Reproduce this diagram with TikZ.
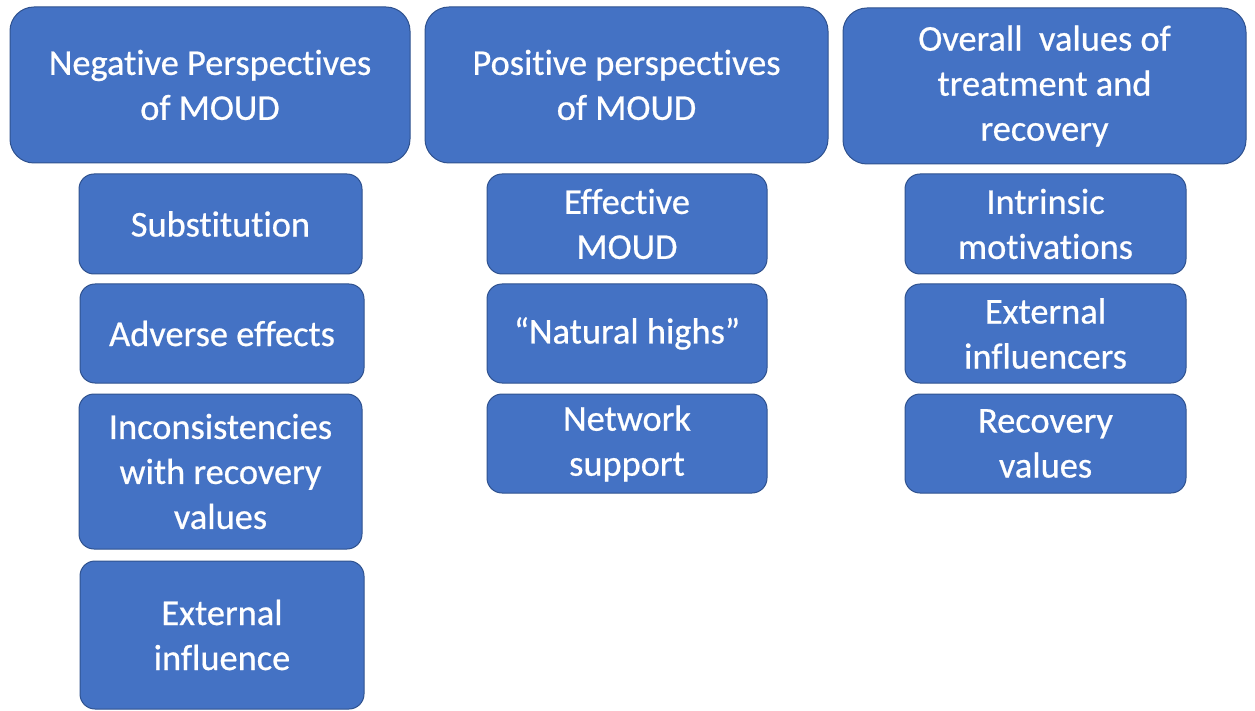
\documentclass[tikz,border=0pt]{standalone}
\usepackage{fontspec}
\setmainfont[Ligatures=NoCommon]{Carlito}
\newfontfamily\boxfont[Ligatures=NoCommon,FakeBold=0.6]{Carlito}
\definecolor{boxblue}{HTML}{4472C4}
\definecolor{boxedge}{HTML}{2F528F}
\begin{document}
\begin{tikzpicture}[x=1pt,y=-1pt,
  box/.style={draw=boxedge, line width=1pt, fill=boxblue, text=white, align=center,
    inner sep=0pt, font=\boxfont\fontsize{36.4}{45}\selectfont\addfontfeature{FakeBold=0.6}},
  head/.style={box, rounded corners=24pt},
  item/.style={box, rounded corners=15pt}]
\useasboundingbox (0,0) rectangle (1255,711);
% headers
\node[head, minimum width=400pt, minimum height=156pt] (h1) at (210,85) {Negative Perspectives\\of MOUD};
\node[head, minimum width=403pt, minimum height=156pt] (h2) at (626.5,85) {Positive perspectives\\of MOUD};
\node[head, minimum width=403pt, minimum height=156pt] (h3) at (1044.5,86) {Overall\ \ values of\\treatment and\\recovery};
% left column
\node[item, minimum width=283pt, minimum height=100pt] (l1) at (220.5,224) {Substitution};
\node[item, minimum width=284pt, minimum height=99pt] (l2) at (222,333.5) {Adverse effects};
\node[item, minimum width=283pt, minimum height=155pt] (l3) at (220.5,471.5) {Inconsistencies\\with recovery\\values};
\node[item, minimum width=284pt, minimum height=148pt] (l4) at (222,635) {External\\influence};
% middle column
\node[item, minimum width=280pt, minimum height=100pt] (m1) at (627,224) {Effective\\MOUD};
\node[item, minimum width=280pt, minimum height=99pt] (m2) at (627,333.5) {“Natural highs”};
\node[item, minimum width=280pt, minimum height=99pt] (m3) at (627,443.5) {Network\\support};
% right column
\node[item, minimum width=281pt, minimum height=100pt] (r1) at (1045.5,224) {Intrinsic\\motivations};
\node[item, minimum width=281pt, minimum height=99pt] (r2) at (1045.5,333.5) {External\\influencers};
\node[item, minimum width=281pt, minimum height=99pt] (r3) at (1045.5,443.5) {Recovery\\values};
\end{tikzpicture}
\end{document}
